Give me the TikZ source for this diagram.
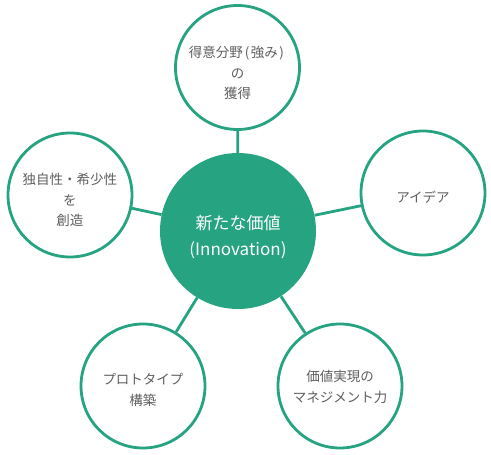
\documentclass[tikz,border=0pt]{standalone}
\usepackage{fontspec}
\setmainfont{Noto Sans CJK JP}
\definecolor{tealg}{RGB}{38,163,129}
\definecolor{txtgray}{RGB}{95,95,95}
\begin{document}
\begin{tikzpicture}[x=1pt,y=-1pt]
\tikzset{
  outer/.style={circle,draw=tealg,line width=2.8pt,fill=white,minimum size=124pt,inner sep=0pt},
  hub/.style={circle,fill=tealg,minimum size=156pt,inner sep=0pt},
  conn/.style={draw=tealg,line width=2.8pt},
  otext/.style={text=txtgray,align=center,font=\fontsize{13.5}{20.5}\selectfont},
  htext/.style={text=white,align=center,font=\fontsize{17}{26}\selectfont}
}
\useasboundingbox (0,0) rectangle (491,455);
\node[hub] (c) at (238,231) {};
\node[outer] (top) at (237.5,67.5) {};
\node[outer] (lft) at (70,195) {};
\node[outer] (rgt) at (423,193) {};
\node[outer] (bl) at (143,386) {};
\node[outer] (br) at (340,386) {};
\draw[conn] (c) -- (top);
\draw[conn] (c) -- (lft);
\draw[conn] (c) -- (rgt);
\draw[conn] (c) -- (bl);
\draw[conn] (c) -- (br);
\node[htext] (ct) at (238,237) {新たな価値\\(Innovation)};
\node[otext] (tt) at (237.5,73) {得意分野\kern2pt(\kern1.5pt強み\kern1.5pt)\kern2pt\\の\\獲得};
\node[otext] (lt) at (70,200) {独自性・希少性\\を\\創造};
\node[otext] (rt) at (423,197) {アイデア};
\node[otext] (blt) at (143,390) {プロトタイプ\\構築};
\node[otext] (brt) at (340,387) {価値実現の\\マネジメント力};
\end{tikzpicture}
\end{document}
